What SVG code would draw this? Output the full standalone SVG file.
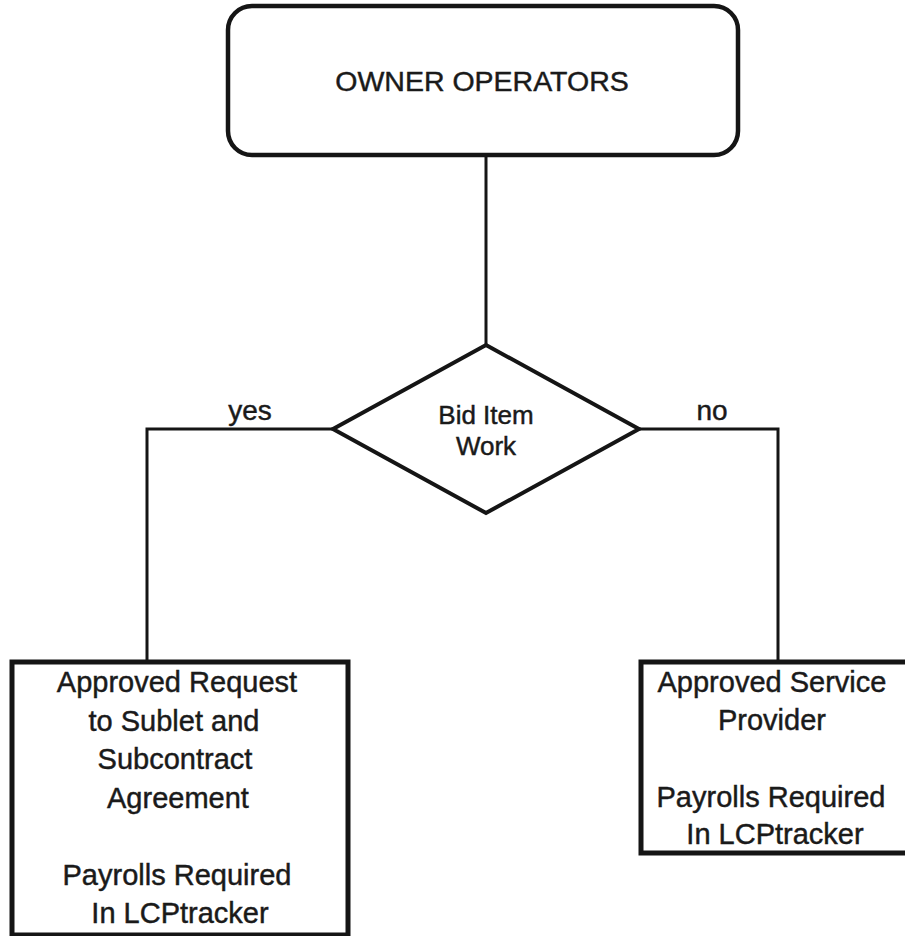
<svg xmlns="http://www.w3.org/2000/svg" width="905" height="936" viewBox="0 0 905 936">
<style>
  .bg{fill:#ffffff}
  .node{fill:#ffffff;stroke:#151515;stroke-linejoin:miter}
  .t{font-family:"Liberation Sans",Arial,sans-serif;fill:#1a1a1a;stroke:#1a1a1a;stroke-width:0.45;text-anchor:middle}
  .conn{fill:none;stroke:#151515;stroke-width:3;stroke-linejoin:miter}
</style>
<rect class="bg" x="0" y="0" width="905" height="936"/>
<g id="connectors">
  <path class="conn" d="M486,155 L486,345"/>
  <path class="conn" d="M333,429 L147,429 L147,662"/>
  <path class="conn" d="M639,429 L778,429 L778,662"/>
  <text class="t" x="250" y="420" font-size="28">yes</text>
  <text class="t" x="712" y="420" font-size="28">no</text>
</g>
<g id="owner-operators">
  <rect class="node" x="228" y="6" width="510" height="149" rx="24" ry="24" stroke-width="4.5"/>
  <text class="t" x="482" y="91" font-size="28.5">OWNER OPERATORS</text>
</g>
<g id="bid-item-work">
  <polygon class="node" points="486,345 639,429 486,513 333,429" stroke-width="4"/>
  <text class="t" x="486" y="424" font-size="26">Bid Item</text>
  <text class="t" x="486" y="455" font-size="26">Work</text>
</g>
<g id="sublet-subcontract">
  <rect class="node" x="12" y="662" width="336" height="273" stroke-width="5"/>
  <text class="t" font-size="29">
    <tspan x="181" y="692">Approved Request</tspan>
    <tspan x="178" y="730.5">to Sublet and</tspan>
    <tspan x="179" y="769">Subcontract</tspan>
    <tspan x="182" y="807.5">Agreement</tspan>
    <tspan x="181" y="884.5">Payrolls Required</tspan>
    <tspan x="180" y="923">In LCPtracker</tspan>
  </text>
</g>
<g id="service-provider">
  <rect class="node" x="641" y="662" width="271" height="191" stroke-width="5"/>
  <text class="t" font-size="29">
    <tspan x="776" y="692">Approved Service</tspan>
    <tspan x="776" y="730">Provider</tspan>
    <tspan x="775" y="807">Payrolls Required</tspan>
    <tspan x="775" y="844">In LCPtracker</tspan>
  </text>
</g>
</svg>
